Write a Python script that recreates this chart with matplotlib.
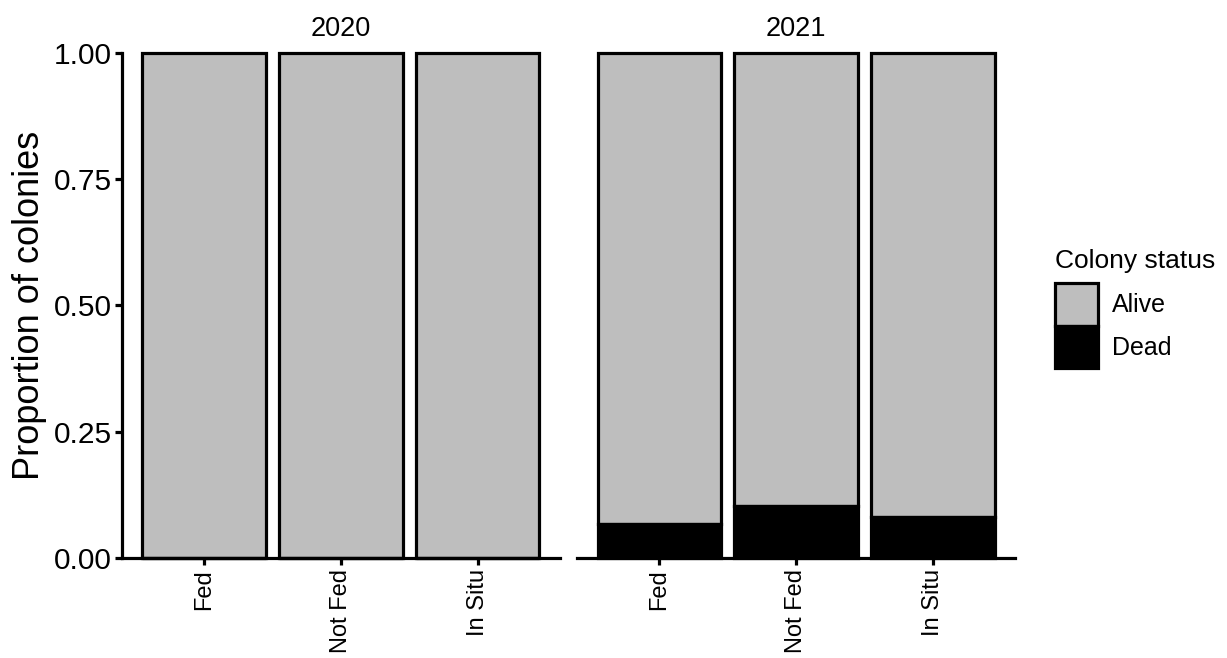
import matplotlib
matplotlib.use('Agg')
import matplotlib.pyplot as plt
from matplotlib.patches import Patch
import numpy as np

plt.rcParams['font.family'] = ['Liberation Sans', 'DejaVu Sans']

# data
years = ['2020', '2021']
treatments = ['Fed', 'Not Fed', 'In Situ']
dead_2020 = [0.0, 0.0, 0.0]
dead_2021 = [0.068, 0.102, 0.082]
dead_by_year = [dead_2020, dead_2021]

alive_col = '#BEBEBE'
dead_col = '#000000'

fig = plt.figure(figsize=(12.27, 6.58), dpi=100)
ax_l = fig.add_axes([0.0994, 0.152, 0.357, 0.7675])
ax_r = fig.add_axes([0.4703, 0.152, 0.357, 0.7675])

x = np.arange(len(treatments))
for ax, year, dead in zip([ax_l, ax_r], years, dead_by_year):
    dead = np.array(dead)
    alive = 1 - dead
    # alive on top, dead at bottom (stacked proportions)
    ax.bar(x, alive, bottom=dead, width=0.9, color=alive_col,
           edgecolor='black', linewidth=2.3, clip_on=False, zorder=2)
    ax.bar(x, dead, width=0.9, color=dead_col, edgecolor='black',
           linewidth=2.3, clip_on=False, zorder=3)
    ax.set_xlim(-0.6, 2.6)
    ax.set_ylim(0, 1)
    ax.set_xticks(x)
    ax.set_xticklabels(treatments, rotation=90, fontsize=17)
    ax.set_title(year, fontsize=19.5, pad=12)
    for s in ['top', 'right']:
        ax.spines[s].set_visible(False)
    ax.spines['bottom'].set_linewidth(2.3)
    ax.spines['left'].set_linewidth(2.3)
    ax.tick_params(axis='x', length=5, width=2.3, pad=3)
    ax.tick_params(axis='y', length=5, width=2.3, pad=2, labelsize=21.5)

ax_l.set_yticks([0, 0.25, 0.5, 0.75, 1.0])
ax_l.set_yticklabels(['0.00', '0.25', '0.50', '0.75', '1.00'])
ax_l.set_ylabel('Proportion of colonies', fontsize=26, labelpad=5)

ax_r.spines['left'].set_visible(False)
ax_r.set_yticks([])

# legend: title as separate text, keys stacked without gap
fig.text(0.8598, 0.5927, 'Colony status', fontsize=19, va='baseline', ha='left')
handles = [Patch(facecolor=alive_col, edgecolor='black', linewidth=2.3),
           Patch(facecolor=dead_col, edgecolor='black', linewidth=2.3)]
fig.legend(handles, ['Alive', 'Dead'],
           loc='upper left', bbox_to_anchor=(0.8598, 0.5699),
           frameon=False, fontsize=18, borderpad=0,
           handlelength=1.72, handleheight=2.24, labelspacing=0,
           handletextpad=0.56, borderaxespad=0)

fig.savefig('out.png', dpi=100)
